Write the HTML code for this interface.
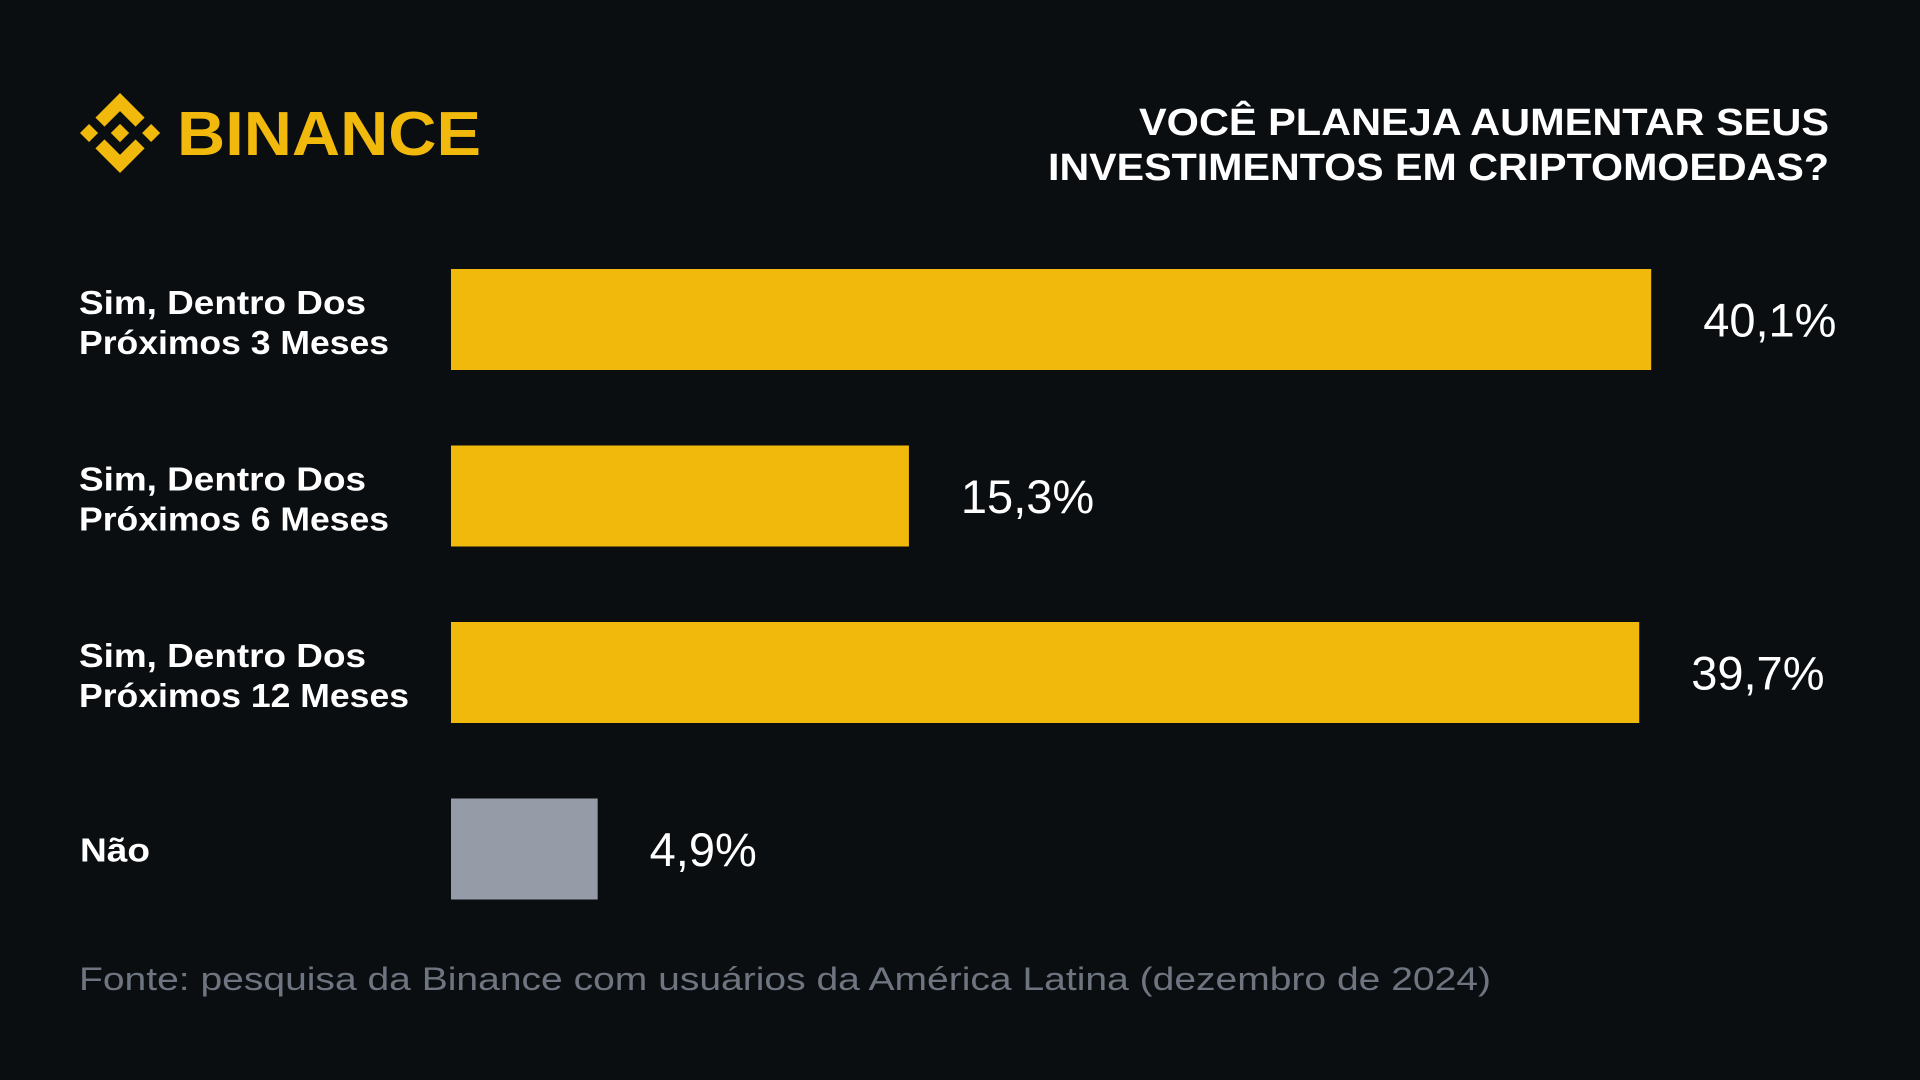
<!DOCTYPE html>
<html><head><meta charset="utf-8"><style>
html,body{margin:0;padding:0;background:#0b0e11;width:1920px;height:1080px;overflow:hidden}
svg{display:block}
</style></head><body>
<svg id="chart" width="1920" height="1080" viewBox="0 0 1920 1080" xmlns="http://www.w3.org/2000/svg">
<rect x="0" y="0" width="1920" height="1080" fill="#0b0e11"/>
<g>
<svg x="80" y="93" width="80" height="80" viewBox="0 0 126.61 126.61">
<g fill="#f0b90b">
<path d="M38.73 53.2l24.59-24.58 24.6 24.6 14.3-14.31L63.32 0 24.42 38.9l14.31 14.3z"/>
<path d="M0 63.31l14.3-14.31 14.31 14.31-14.31 14.3z"/>
<path d="M38.73 73.41l24.59 24.59 24.6-24.6 14.31 14.29-38.9 38.91-38.91-38.88-.02-.02 14.33-14.29z"/>
<path d="M98.28 63.31l14.3-14.31 14.31 14.31-14.31 14.3z"/>
<path d="M77.83 63.3L63.32 48.78 52.59 59.51l-1.24 1.23-2.54 2.54-.02.02.02.03 14.51 14.5 14.51-14.52.01-.01-.01-.01z"/>
</g></svg>
<text x="177" y="155" font-family="Liberation Sans, sans-serif" font-weight="bold" font-size="62" fill="#f0b90b" textLength="304" lengthAdjust="spacingAndGlyphs">BINANCE</text>
</g>
<g font-family="Liberation Sans, sans-serif" font-weight="bold" font-size="38" fill="#ffffff" text-anchor="end">
<text x="1829" y="135" textLength="690" lengthAdjust="spacingAndGlyphs">VOCÊ PLANEJA AUMENTAR SEUS</text>
<text x="1829" y="180" textLength="781" lengthAdjust="spacingAndGlyphs">INVESTIMENTOS EM CRIPTOMOEDAS?</text>
</g>
<g id="bars"></g>
<text x="79" y="990" font-family="Liberation Sans, sans-serif" font-size="32" fill="#6f7580" textLength="1412" lengthAdjust="spacingAndGlyphs">Fonte: pesquisa da Binance com usuários da América Latina (dezembro de 2024)</text>
</svg>
<script>
const categoriesLine1 = ["Sim, Dentro Dos", "Sim, Dentro Dos", "Sim, Dentro Dos", "Não"];
const categoriesLine2 = ["Próximos 3 Meses", "Próximos 6 Meses", "Próximos 12 Meses", ""];
const values = [40.1, 15.3, 39.7, 4.9];
const valueLabels = ["40,1%", "15,3%", "39,7%", "4,9%"];
const barColors = ["#f0b90b", "#f0b90b", "#f0b90b", "#959ba7"];

const NS = "http://www.w3.org/2000/svg";
const x0 = 451, pxPerUnit = 29.93;
const xScale = v => v * pxPerUnit;
const bandTop = 269, bandStep = 176.5, barH = 101;
const yScale = i => bandTop + i * bandStep;
const charW = 21.1; // approx px per character for bold labels
const g = document.getElementById('bars');
values.forEach((v, i) => {
  const y = yScale(i);
  const r = document.createElementNS(NS, 'rect');
  r.setAttribute('x', x0); r.setAttribute('y', y);
  r.setAttribute('width', xScale(v)); r.setAttribute('height', barH);
  r.setAttribute('fill', barColors[i]);
  
  
  g.appendChild(r);
  const t = document.createElementNS(NS, 'text');
  t.setAttribute('x', x0 + xScale(v) + 52);
  t.setAttribute('y', y + barH / 2 + 17);
  t.setAttribute('font-family', 'Liberation Sans, sans-serif');
  t.setAttribute('font-size', '47');
  t.setAttribute('fill', '#ffffff');
  t.textContent = valueLabels[i];
  
  
  g.appendChild(t);
  const c = document.createElementNS(NS, 'text');
  c.setAttribute('font-family', 'Liberation Sans, sans-serif');
  c.setAttribute('font-weight', 'bold');
  c.setAttribute('font-size', '33');
  c.setAttribute('fill', '#ffffff');
  
  
  if (categoriesLine2[i]) {
    const a = document.createElementNS(NS, 'tspan');
    a.setAttribute('x', 79); a.setAttribute('y', y + 45);
    a.setAttribute('textLength', 287);
    a.setAttribute('lengthAdjust', 'spacingAndGlyphs');
    a.textContent = categoriesLine1[i];
    c.appendChild(a);
    const b = document.createElementNS(NS, 'tspan');
    b.setAttribute('x', 79); b.setAttribute('y', y + 85);
    b.setAttribute('textLength', Math.round(categoriesLine2[i].length * 19.4));
    b.setAttribute('lengthAdjust', 'spacingAndGlyphs');
    b.textContent = categoriesLine2[i];
    c.appendChild(b);
  } else {
    c.setAttribute('x', 80); c.setAttribute('y', y + 63);
    c.setAttribute('textLength', 70);
    c.setAttribute('lengthAdjust', 'spacingAndGlyphs');
    c.textContent = categoriesLine1[i];
  }
  g.appendChild(c);
});
</script>
</body></html>
